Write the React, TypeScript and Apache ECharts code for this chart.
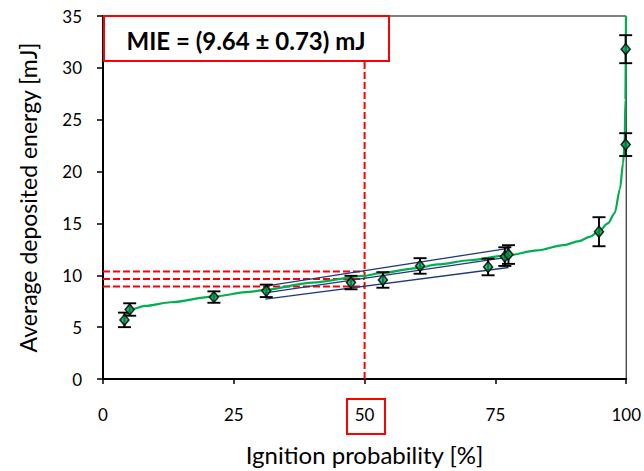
import React, { useEffect, useRef } from "react";
import * as echarts from "echarts";

// Measured points: ignition probability [%], average deposited energy [mJ], error [mJ]
const probability = [4.1, 5.1, 21.2, 31.2, 47.4, 53.5, 60.6, 73.6, 76.8, 77.5, 94.8, 99.9, 99.9];
const energy = [5.7, 6.7, 7.9, 8.5, 9.3, 9.55, 10.9, 10.8, 11.8, 12.0, 14.2, 22.6, 31.8];
const energyError = [0.7, 0.6, 0.55, 0.6, 0.65, 0.75, 0.75, 0.8, 0.9, 0.9, 1.4, 1.1, 1.35];

// Fitted curve
const fitX = [4.1, 5.3, 8, 13, 21, 28, 31, 40, 50, 53, 60, 64, 70, 77, 83, 88, 91, 93, 94.7, 96.5, 97.8, 98.8, 99.4, 99.7, 99.85, 99.95];
const fitY = [5.8, 6.7, 7.05, 7.4, 7.95, 8.4, 8.6, 9.3, 9.95, 10.2, 10.7, 11.05, 11.45, 11.9, 12.4, 12.9, 13.3, 13.7, 14.2, 15.0, 16.0, 18.3, 20.8, 22.8, 27, 35];

// Linear fit lines with band
const bandX = [31, 77.5];
const bandUpper = [8.95, 12.6];
const bandMiddle = [8.3, 11.75];
const bandLower = [7.7, 10.75];

// MIE
const mieProbability = 50;
const mieValue = 9.64;
const mieError = 0.73;
const mieLabel = "MIE = (9.64 ± 0.73) mJ";

const xTicks = [0, 25, 50, 75, 100];
const yTicks = [0, 5, 10, 15, 20, 25, 30, 35];

const FONT = "Lato, 'Open Sans', sans-serif";

export default function App() {
  const ref = useRef<HTMLDivElement>(null);
  useEffect(() => {
    if (!ref.current) return;
    const chart = echarts.init(ref.current, undefined, { renderer: "svg" });
    const red = "#ff0000";
    const dash = { type: [7, 3] as any, width: 2, color: red };
    const hLine = (v: number) => ({
      type: "line",
      data: [[xTicks[0], v], [mieProbability, v]],
      showSymbol: false,
      lineStyle: dash,
      z: 3,
      silent: true,
    });
    const navy = "#1f3a7a";
    const bandLine = (ys: number[]) => ({
      type: "line",
      data: bandX.map((x, i) => [x, ys[i]]),
      showSymbol: false,
      lineStyle: { color: navy, width: 1.3 },
      z: 4,
      silent: true,
    });
    chart.setOption({
      animation: false,
      backgroundColor: "#fff",
      grid: {
        left: 103,
        right: 16,
        top: 16,
        bottom: 91,
        show: true,
        borderColor: "#000",
        borderWidth: 1,
      },
      xAxis: {
        type: "value",
        min: xTicks[0],
        max: xTicks[xTicks.length - 1],
        interval: 25,
        name: "Ignition probability [%]",
        nameLocation: "middle",
        nameGap: 63,
        nameTextStyle: { fontFamily: FONT, fontSize: 24, color: "#000" },
        axisLine: { show: true, lineStyle: { color: "#000", width: 2 } },
        axisTick: { show: true, length: 5, lineStyle: { color: "#000", width: 1.5 } },
        axisLabel: { fontFamily: FONT, fontSize: 17, color: "#000", margin: 27 },
        splitLine: { show: false },
      },
      yAxis: {
        type: "value",
        min: yTicks[0],
        max: yTicks[yTicks.length - 1],
        interval: 5,
        name: "Average deposited energy [mJ]",
        nameLocation: "middle",
        nameGap: 64,
        nameTextStyle: { fontFamily: FONT, fontSize: 23, color: "#000" },
        axisLine: { show: true, lineStyle: { color: "#000", width: 2 } },
        axisTick: { show: true, length: 6, lineStyle: { color: "#000", width: 1.5 } },
        axisLabel: { fontFamily: FONT, fontSize: 17, color: "#000", margin: 21 },
        splitLine: { show: false },
      },
      series: [
        hLine(mieValue + mieError),
        hLine(mieValue),
        hLine(mieValue - mieError),
        {
          type: "line",
          data: [[mieProbability, yTicks[0]], [mieProbability, yTicks[yTicks.length - 1]]],
          showSymbol: false,
          lineStyle: dash,
          z: 3,
          silent: true,
        },
        bandLine(bandUpper),
        bandLine(bandMiddle),
        bandLine(bandLower),
        {
          type: "line",
          data: fitX.map((x, i) => [x, fitY[i]]),
          showSymbol: false,
          smooth: 0.3,
          smoothMonotone: "x",
          lineStyle: { color: "#00b050", width: 2.2 },
          z: 5,
          silent: true,
        },
        {
          type: "custom",
          data: probability.map((x, i) => [x, energy[i], energyError[i]]),
          encode: { x: 0, y: 1 },
          z: 6,
          renderItem: (params: any, api: any) => {
            const x = api.value(0);
            const y = api.value(1);
            const e = api.value(2);
            const top = api.coord([x, y + e]);
            const bot = api.coord([x, y - e]);
            const hw = 6.5;
            const st = { stroke: "#000", lineWidth: 1.9 };
            return {
              type: "group",
              children: [
                { type: "line", shape: { x1: top[0], y1: top[1], x2: bot[0], y2: bot[1] }, style: st },
                { type: "line", shape: { x1: top[0] - hw, y1: top[1], x2: top[0] + hw, y2: top[1] }, style: st },
                { type: "line", shape: { x1: bot[0] - hw, y1: bot[1], x2: bot[0] + hw, y2: bot[1] }, style: st },
              ],
            };
          },
        },
        {
          type: "scatter",
          data: probability.map((x, i) => [x, energy[i]]),
          symbol: "diamond",
          symbolSize: [9, 11],
          itemStyle: { color: "#00a050", borderColor: "#000", borderWidth: 1.6 },
          z: 7,
        },
      ],
      graphic: [
        {
          type: "rect",
          z: 100,
          shape: { x: 104, y: 16, width: 285, height: 45 },
          style: { fill: "#fff", stroke: red, lineWidth: 2 },
        },
        {
          type: "text",
          z: 101,
          x: 246,
          y: 40,
          style: {
            text: mieLabel,
            fontFamily: FONT,
            fontSize: 24,
            fontWeight: "bold",
            fill: "#000",
            align: "center",
            verticalAlign: "middle",
          },
        },
        {
          type: "rect",
          z: 100,
          shape: { x: 347, y: 399, width: 38, height: 35 },
          style: { fill: "none", stroke: red, lineWidth: 2 },
        },
      ],
    });
    return () => chart.dispose();
  }, []);
  return (
    <div
      ref={ref}
      style={{ position: "fixed", left: 0, top: 0, width: 644, height: 471, background: "#fff" }}
    />
  );
}
